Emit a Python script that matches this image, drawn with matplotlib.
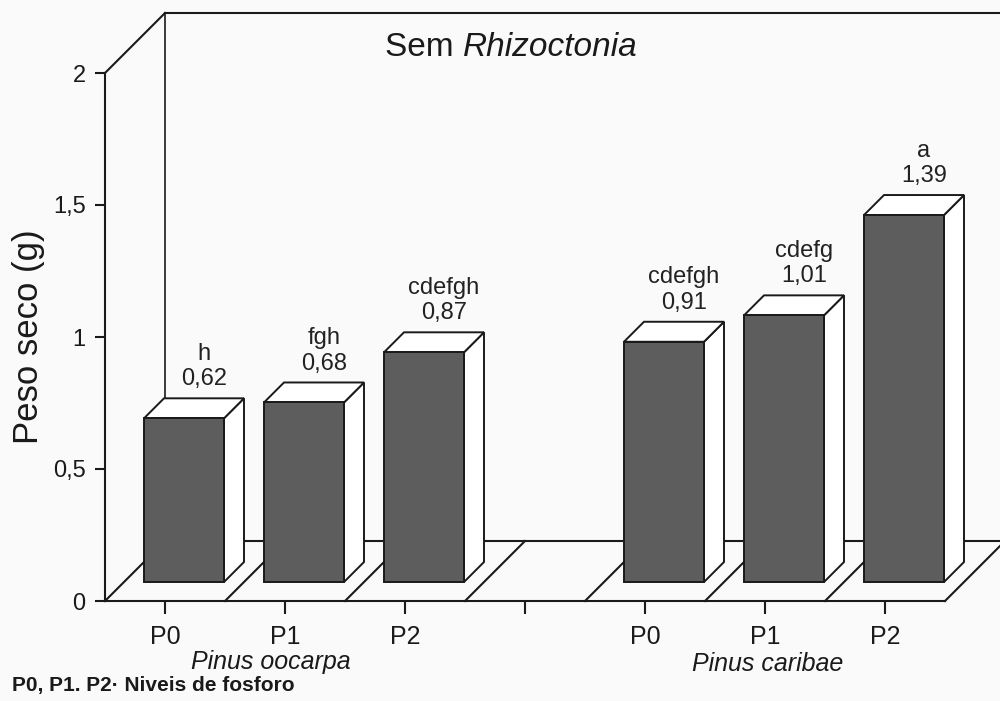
import numpy as np
import matplotlib
matplotlib.use("Agg")
import matplotlib.pyplot as plt
from matplotlib.patches import Polygon

plt.rcParams['font.family'] = ['Liberation Sans', 'DejaVu Sans']

# Data
species = ['Pinus oocarpa', 'Pinus caribae']
levels = ['P0', 'P1', 'P2']
oocarpa = [0.62, 0.68, 0.87]
caribae = [0.91, 1.01, 1.39]
letters_oocarpa = ['h', 'fgh', 'cdefgh']
letters_caribae = ['cdefgh', 'cdefg', 'a']

values = oocarpa + caribae
letters = letters_oocarpa + letters_caribae
slots = [0, 1, 2, 4, 5, 6]          # slot 3 is the empty gap between species
tick_labels = levels + [''] + levels

#Projection constants (pseudo 3D)
DX = 0.5            # x shift for full floor depth (slot units)
DY = 60 / 264       # y shift for full floor depth (value units)
T0, T1 = 19 / 60, 39 / 60   # bar depth range
BW = 2 / 3          # bar width
LC = '#1a1a1a'
FACE = '#5d5d5d'
BG = '#fafafa'

def proj(x, y, t):
    return (x + DX * t, y + DY * t)

fig = plt.figure(figsize=(10, 7.01), dpi=100)
fig.patch.set_facecolor(BG)
ax = fig.add_axes([0, 0, 1, 1])
ax.set_facecolor(BG)
ax.set_xlim(-165 / 120, 835 / 120)
ax.set_ylim(-100 / 264, 601 / 264)

# Walls and floor
top = 2 + DY
ax.plot([-0.5, 0], [2, top], color=LC, lw=1.5, zorder=1)
ax.plot([0, 7.5], [top, top], color=LC, lw=1.5, zorder=1)
ax.plot([0, 0], [DY, top], color=LC, lw=1.2, zorder=1)
ax.plot([0, 7.5], [DY, DY], color=LC, lw=1.5, zorder=1)
for k in range(8):
    x0, y0 = proj(k - 0.5, 0, 0)
    x1, y1 = proj(k - 0.5, 0, 1)
    ax.plot([x0, x1], [y0, y1], color=LC, lw=1.5, zorder=1)

# Bars
for s, v, lab in zip(slots, values, letters):
    xl, xr = s - BW / 2, s + BW / 2
    front = [proj(xl, 0, T0), proj(xr, 0, T0), proj(xr, v, T0), proj(xl, v, T0)]
    side = [proj(xr, 0, T0), proj(xr, 0, T1), proj(xr, v, T1), proj(xr, v, T0)]
    topf = [proj(xl, v, T0), proj(xr, v, T0), proj(xr, v, T1), proj(xl, v, T1)]
    ax.add_patch(Polygon(side, closed=True, fc='white', ec=LC, lw=1.4, zorder=3))
    ax.add_patch(Polygon(topf, closed=True, fc='white', ec=LC, lw=1.4, zorder=3))
    ax.add_patch(Polygon(front, closed=True, fc=FACE, ec=LC, lw=1.4, zorder=4))
    tx, ty = proj(s, v, T1)
    ax.text(tx, ty + 0.03, f"{lab}\n{v:.2f}".replace('.', ','), ha='center', va='bottom',
            fontsize=17, linespacing=1.2, color='#222222', zorder=5)

# Axes spines and ticks
for side_name in ['top', 'right']:
    ax.spines[side_name].set_visible(False)
ax.spines['left'].set_position(('data', -0.5))
ax.spines['left'].set_bounds(0, 2)
ax.spines['bottom'].set_position(('data', 0))
ax.spines['bottom'].set_bounds(-0.5, 6.5)
for sp in ['left', 'bottom']:
    ax.spines[sp].set_color(LC)
    ax.spines[sp].set_linewidth(1.5)

ax.set_yticks([0, 0.5, 1, 1.5, 2])
ax.set_yticklabels(['0', '0,5', '1', '1,5', '2'])
ax.set_xticks(range(7))
ax.set_xticklabels(tick_labels)
ax.tick_params(axis='y', direction='out', length=7, width=1.5, pad=7,
               labelsize=17, colors=LC)
ax.tick_params(axis='x', direction='out', length=9, width=1.5, pad=8,
               labelsize=18, colors=LC)

ax.text(-1.14, 1.0, 'Peso seco (g)', rotation=90, ha='center', va='center',
        fontsize=25, color=LC)

ax.text(0.88, -0.230, species[0], style='italic', ha='center', va='center',
        fontsize=18, color=LC)
ax.text(5.02, -0.238, species[1], style='italic', ha='center', va='center',
        fontsize=18, color=LC)

# Title
t1 = fig.text(385 / 1000, 1 - 48 / 701, 'Sem ', ha='left', va='center',
              fontsize=24, color=LC)
ax.annotate('Rhizoctonia', xy=(1, 0), xycoords=t1, ha='left', va='bottom',
            fontsize=24, style='italic', color=LC)

fig.text(12 / 1000, 1 - 685 / 701, 'P0, P1. P2\u00b7 Niveis de fosforo',
         ha='left', va='center', fontsize=15, fontweight='bold', color=LC)

plt.savefig('out.png', dpi=100, facecolor=BG)
